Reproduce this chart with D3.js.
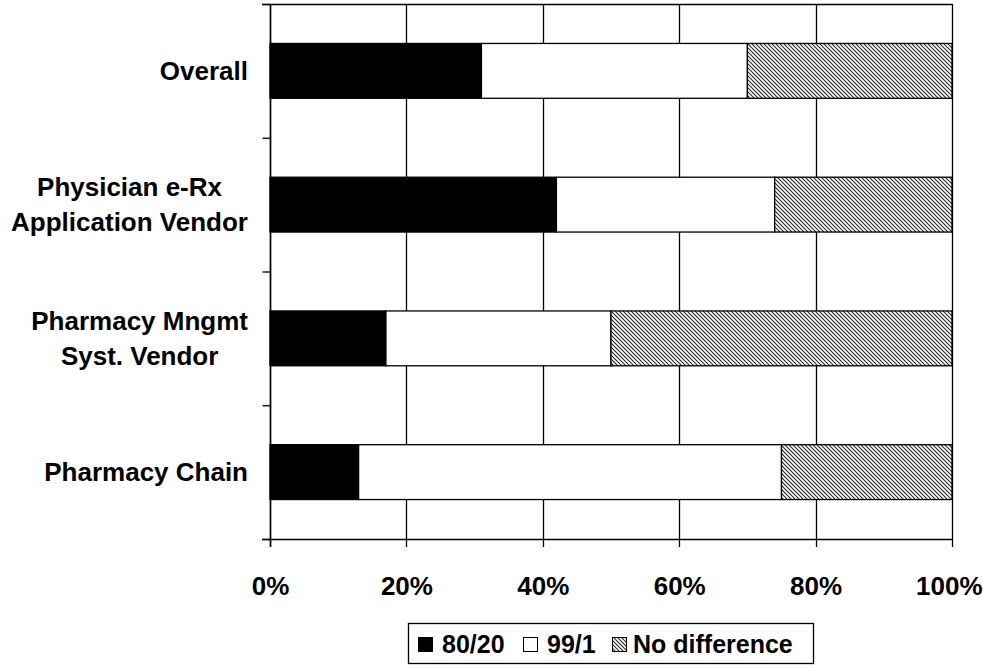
<!DOCTYPE html>
<html>
<head>
<meta charset="utf-8">
<script src="https://cdn.jsdelivr.net/npm/d3@7"></script>
<style>
  html, body { margin: 0; padding: 0; background: #fff; }
  svg { display: block; font-family: "Liberation Sans", Arial, sans-serif; font-weight: bold; }
</style>
</head>
<body>
<svg id="chart" width="983" height="670"></svg>
<script>
// Categories (top to bottom) and their label lines
const categories = ["Overall", "Physician e-Rx Application Vendor", "Pharmacy Mngmt Syst. Vendor", "Pharmacy Chain"];
const categoryLines = [["Overall"], ["Physician e-Rx", "Application Vendor"], ["Pharmacy Mngmt", "Syst. Vendor"], ["Pharmacy Chain"]];

// Share of responses per category (percent)
const series = ["80/20", "99/1", "No difference"];
const share8020 = [31, 42, 17, 13];
const share991 = [39, 32, 33, 62];
const shareNoDiff = [30, 26, 50, 25];

// Axis tick values
const xTicks = [0, 20, 40, 60, 80, 100];
const xTickLabels = ["0%", "20%", "40%", "60%", "80%", "100%"];

const rows = categories.map((c, i) => ({
  category: c,
  "80/20": share8020[i],
  "99/1": share991[i],
  "No difference": shareNoDiff[i]
}));

const svg = d3.select("#chart");
const plotLeft = 270, plotRight = 952, plotTop = 4, plotBottom = 539;

const x = d3.scaleLinear().domain([0, 100]).range([plotLeft, plotRight]);
const y = d3.scaleBand().domain(categories).range([plotTop, plotBottom])
  .paddingInner(0.59).paddingOuter(0.295);
const yEdges = d3.scaleLinear().domain([0, categories.length]).range([plotTop, plotBottom]);

// Diagonal hatch for "No difference"
const defs = svg.append("defs");
const pat = defs.append("pattern").attr("id", "hatch")
  .attr("patternUnits", "userSpaceOnUse").attr("width", 4).attr("height", 4);
pat.append("rect").attr("width", 4).attr("height", 4).attr("fill", "#fff");
pat.append("path").attr("d", "M0,0 L4,4 M-1,3 L1,5 M3,-1 L5,1")
  .attr("stroke", "#2a2a2a").attr("stroke-width", 1.1);

const fills = { "80/20": "#000", "99/1": "#fff", "No difference": "url(#hatch)" };

// Vertical gridlines (extend below the axis as tick marks)
svg.append("g").selectAll("line").data(xTicks).join("line")
  .attr("x1", d => Math.round(x(d)) + 0.5).attr("x2", d => Math.round(x(d)) + 0.5)
  .attr("y1", plotTop).attr("y2", plotBottom + 8)
  .attr("stroke", "#000").attr("stroke-width", 1.3);

// Left axis with ticks at category boundaries
const yAxis = d3.axisLeft(yEdges).tickValues(d3.range(0, categories.length + 1))
  .tickSize(8).tickFormat("");
const ya = svg.append("g").attr("transform", `translate(${plotLeft + 0.5},0)`).call(yAxis);
ya.select(".domain").remove();
ya.selectAll(".tick line").attr("stroke", "#000").attr("stroke-width", 1.3);

// Top and bottom horizontal frame lines
svg.append("g").selectAll("line").data([plotTop, plotBottom]).join("line")
  .attr("x1", plotLeft - 8).attr("x2", plotRight + 0.5)
  .attr("y1", d => d + 0.5).attr("y2", d => d + 0.5)
  .attr("stroke", "#000").attr("stroke-width", 1.5);

// Stacked bars
const stacked = d3.stack().keys(series)(rows);
svg.append("g").selectAll("g").data(stacked).join("g")
  .attr("fill", d => fills[d.key])
  .selectAll("rect").data(d => d).join("rect")
  .attr("x", d => x(d[0]))
  .attr("y", d => y(d.data.category))
  .attr("width", d => x(d[1]) - x(d[0]))
  .attr("height", y.bandwidth())
  .attr("stroke", "#000").attr("stroke-width", 1.3);

// Left axis line on top of bars
svg.append("line").attr("x1", plotLeft + 0.5).attr("x2", plotLeft + 0.5)
  .attr("y1", plotTop).attr("y2", plotBottom + 8)
  .attr("stroke", "#000").attr("stroke-width", 1.5);

// X tick labels
const xAxis = d3.axisBottom(x).tickValues(xTicks)
  .tickFormat((d, i) => xTickLabels[i]).tickSize(0).tickPadding(0);
const xa = svg.append("g").attr("transform", `translate(0,${plotBottom})`).call(xAxis);
xa.select(".domain").remove();
xa.selectAll("text").attr("y", 56).attr("dy", null)
  .attr("font-size", 26).attr("font-family", "'Liberation Sans', Arial, sans-serif")
  .attr("font-weight", "bold").attr("fill", "#000");
// keep the last label inside the page edge
xa.selectAll(".tick").filter(d => d === 100).select("text")
  .attr("text-anchor", "end").attr("x", 982 - x(100));

// Category labels: lines centred on each other, block right-aligned
const labelRight = 248, lineGap = 35;
categories.forEach((c, i) => {
  const lines = categoryLines[i];
  const cy = y(c) + y.bandwidth() / 2;
  const g = svg.append("g");
  const texts = lines.map((t, j) => g.append("text")
    .attr("font-size", 26).attr("fill", "#000")
    .attr("y", cy + (j - (lines.length - 1) / 2) * lineGap)
    .attr("dy", "0.35em").text(t));
  const maxW = d3.max(texts, t => t.node().getComputedTextLength());
  texts.forEach(t => t.attr("text-anchor", "middle").attr("x", labelRight - maxW / 2));
});

// Legend
const legend = svg.append("g");
legend.append("rect").attr("x", 408.5).attr("y", 623.5).attr("width", 405).attr("height", 40)
  .attr("fill", "#fff").attr("stroke", "#000").attr("stroke-width", 1.3);
const legendItems = [
  { key: "80/20", box: 418, text: 442 },
  { key: "99/1", box: 523, text: 547 },
  { key: "No difference", box: 612, text: 633 }
];
legendItems.forEach(it => {
  legend.append("rect").attr("x", it.box + 0.5).attr("y", 637.5).attr("width", 14).attr("height", 14)
    .attr("fill", fills[it.key]).attr("stroke", "#000").attr("stroke-width", 1);
  legend.append("text").attr("x", it.text).attr("y", 653)
    .attr("font-size", 25).attr("fill", "#000").text(it.key);
});
</script>
</body>
</html>
